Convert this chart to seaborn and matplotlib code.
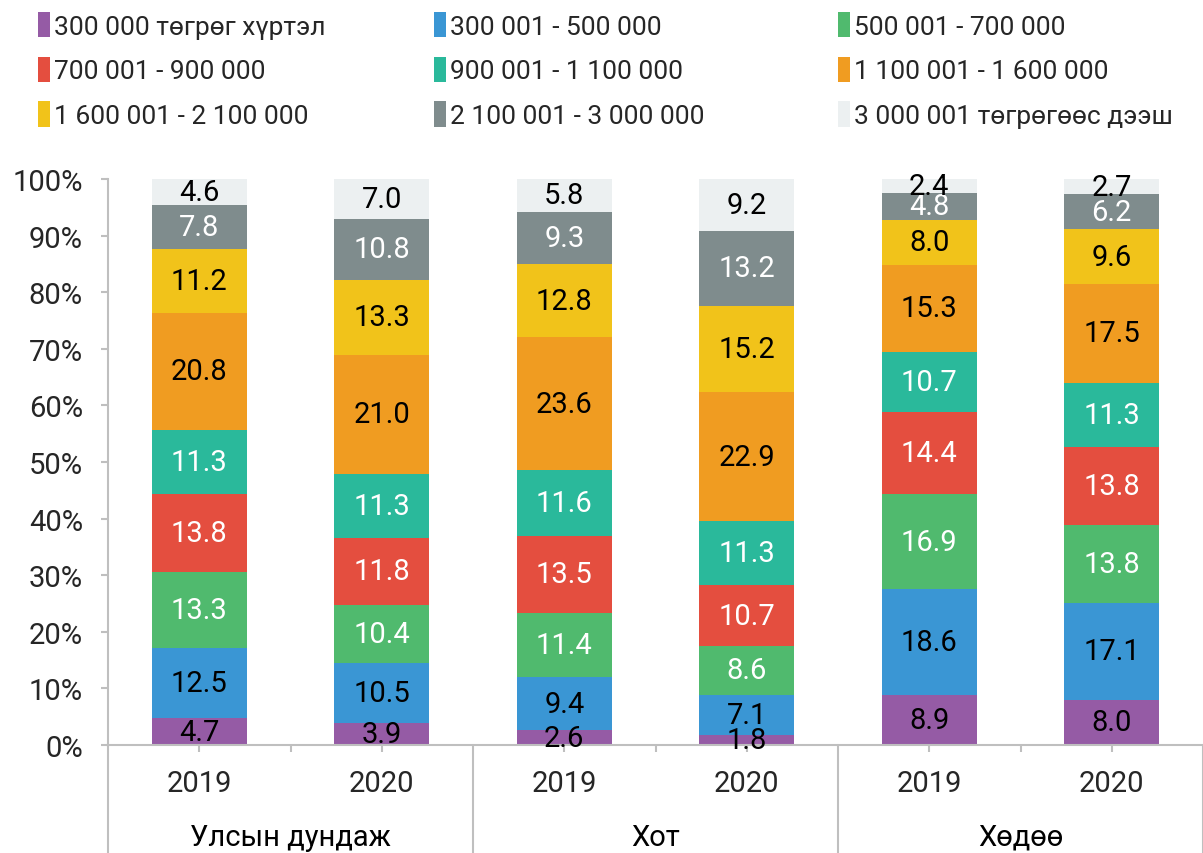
import numpy as np
import pandas as pd
import matplotlib
matplotlib.use("Agg")
import matplotlib.pyplot as plt
import matplotlib.transforms as mtransforms
from matplotlib.patches import Patch
import seaborn as sns

# ---------------- data ----------------
groups = ["Улсын дундаж", "Хот", "Хөдөө"]
years = ["2019", "2020"]
series_names = [
    "300 000 төгрөг хүртэл",
    "300 001 - 500 000",
    "500 001 - 700 000",
    "700 001 - 900 000",
    "900 001 - 1 100 000",
    "1 100 001 - 1 600 000",
    "1 600 001 - 2 100 000",
    "2 100 001 - 3 000 000",
    "3 000 001 төгрөгөөс дээш",
]
# values per bar (Улсын 2019, Улсын 2020, Хот 2019, Хот 2020, Хөдөө 2019, Хөдөө 2020)
s1 = [4.7, 3.9, 2.6, 1.8, 8.9, 8.0]
s2 = [12.5, 10.5, 9.4, 7.1, 18.6, 17.1]
s3 = [13.3, 10.4, 11.4, 8.6, 16.9, 13.8]
s4 = [13.8, 11.8, 13.5, 10.7, 14.4, 13.8]
s5 = [11.3, 11.3, 11.6, 11.3, 10.7, 11.3]
s6 = [20.8, 21.0, 23.6, 22.9, 15.3, 17.5]
s7 = [11.2, 13.3, 12.8, 15.2, 8.0, 9.6]
s8 = [7.8, 10.8, 9.3, 13.2, 4.8, 6.2]
s9 = [4.6, 7.0, 5.8, 9.2, 2.4, 2.7]
series_values = [s1, s2, s3, s4, s5, s6, s7, s8, s9]
ytick_values = [0, 10, 20, 30, 40, 50, 60, 70, 80, 90, 100]
ytick_labels = ["0%", "10%", "20%", "30%", "40%", "50%", "60%", "70%", "80%", "90%", "100%"]

colors = ["#955BA5", "#3A96D4", "#50BA6E", "#E44E3F", "#2AB99B",
          "#F09C21", "#F1C31A", "#7F8C8D", "#ECF0F1"]
label_colors = ["black", "black", "white", "white", "white",
                "black", "black", "white", "black"]

# ---------------- figure ----------------
sns.set_style("white")
plt.rcParams["font.family"] = ["Roboto", "DejaVu Sans"]

W, H = 1203, 854
fig = plt.figure(figsize=(W / 100, H / 100), dpi=100)
ax_left, ax_right = 108 / W, 1.0
ax_bottom, ax_top = 1 - 746 / H, 1 - 180 / H
ax = fig.add_axes([ax_left, ax_bottom, ax_right - ax_left, ax_top - ax_bottom])

bar_keys = [f"{g} {y}" for g in groups for y in years]
vals = np.array(series_values)
cums = np.cumsum(vals, axis=0)

# draw cumulative layers from top-most down so lower ones overlay
for i in range(len(series_names) - 1, -1, -1):
    df = pd.DataFrame({"bar": bar_keys, "top": cums[i]})
    sns.barplot(data=df, x="bar", y="top", order=bar_keys, color=colors[i],
                saturation=1, width=0.52, linewidth=0, ax=ax)

# value labels
for i in range(len(series_names)):
    for j in range(len(bar_keys)):
        v = vals[i, j]
        bottom = cums[i, j] - v
        ax.text(j, bottom + v / 2, f"{v:.1f}", ha="center", va="center",
                fontsize=21, color=label_colors[i])

ax.set_xlim(-0.5, len(bar_keys) - 0.5)
ax.set_ylim(0, 100)
ax.set_yticks(ytick_values)
ax.set_yticklabels(ytick_labels, fontsize=21)
ax.set_xlabel("")
ax.set_ylabel("")

# x ticks: year labels at bar centers, minor ticks at in-group boundaries
ax.set_xticks(range(len(bar_keys)))
ax.set_xticklabels([y for g in groups for y in years], fontsize=21)
ax.set_xticks([0.5, 2.5, 4.5], minor=True)

gray = "#BFBFBF"
for side in ["top", "right"]:
    ax.spines[side].set_visible(False)
for side in ["left", "bottom"]:
    ax.spines[side].set_color(gray)
    ax.spines[side].set_linewidth(1.5)
ax.tick_params(axis="y", which="major", left=True, length=5, width=1.5,
               color=gray, pad=13)
ax.tick_params(axis="x", which="both", bottom=True, length=5, width=1.5,
               color=gray)
ax.tick_params(axis="x", which="major", pad=12)

# group separator lines and group labels
trans = mtransforms.blended_transform_factory(ax.transData, ax.transAxes)
ax_h_px = 746 - 180
bottom_frac = -(H - 746) / ax_h_px
for xb in [-0.5, 1.5, 3.5, 5.5]:
    ax.plot([xb, xb], [0, bottom_frac], transform=trans, color=gray,
            lw=1.5, clip_on=False)
label_y = -(838 - 746) / ax_h_px
for k, g in enumerate(groups):
    ax.text(2 * k + 0.5, label_y, g, transform=trans, ha="center",
            va="center", fontsize=21, color="black")

# legend: three columns placed individually
handles = [Patch(facecolor=c, edgecolor="none") for c in colors]
col_x = [38 / W, 434 / W, 838 / W]
for c in range(3):
    idx = [c, c + 3, c + 6]
    leg = fig.legend([handles[i] for i in idx], [series_names[i] for i in idx],
                     loc="upper left", bbox_to_anchor=(col_x[c], 1 - 13 / H),
                     frameon=False, fontsize=19, ncol=1,
                     handlelength=0.45, handleheight=1.1, handletextpad=0.15,
                     labelspacing=0.68, borderaxespad=0, borderpad=0)

fig.savefig("out.png", dpi=100)
